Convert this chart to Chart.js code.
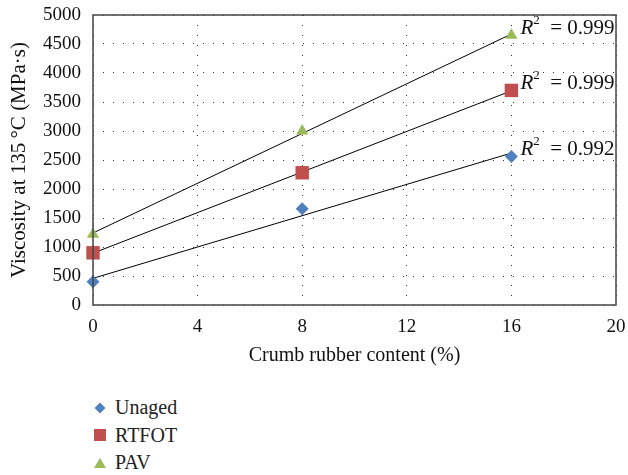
<!DOCTYPE html>
<html><head><meta charset="utf-8">
<script src="https://cdn.jsdelivr.net/npm/chart.js@4/dist/chart.umd.min.js"></script>
<style>
html,body{margin:0;padding:0;background:#fff;width:628px;height:475px;overflow:hidden;}
#wrap{position:absolute;left:0;top:0;width:628px;height:380px;}
#legend{position:absolute;left:93px;top:394px;font-family:"Liberation Serif","DejaVu Serif",serif;font-size:20px;color:#222;}
.item{height:27.5px;display:flex;align-items:center;}
.item svg{width:14px;height:14px;margin-right:8px;}
</style></head>
<body>
<div id="wrap"><canvas id="c" width="628" height="380"></canvas></div>
<div id="legend"></div>
<script>
const seriesNames = ['Unaged', 'RTFOT', 'PAV'];
const rubberContent = [0, 8, 16];
const unaged = [400, 1660, 2560];
const rtfot = [900, 2280, 3700];
const pav = [1220, 3000, 4650];
const r2Values = ['0.992', '0.999', '0.999'];
const xTicks = [0, 4, 8, 12, 16, 20];
const yTicks = [0, 500, 1000, 1500, 2000, 2500, 3000, 3500, 4000, 4500, 5000];

const colors = ['#4F81BD', '#C0504D', '#9BBB59'];
const styles = ['rectRot', 'rect', 'triangle'];
const radii = [6.5, 9.5, 7];
const values = [unaged, rtfot, pav];

function fit(xs, ys) {
  const n = xs.length;
  const mx = xs.reduce((a, b) => a + b, 0) / n;
  const my = ys.reduce((a, b) => a + b, 0) / n;
  let sxy = 0, sxx = 0;
  for (let i = 0; i < n; i++) { sxy += (xs[i] - mx) * (ys[i] - my); sxx += (xs[i] - mx) ** 2; }
  const b = sxy / sxx, a = my - b * mx;
  return x => a + b * x;
}

const datasets = [];
values.forEach((ys, i) => {
  const f = fit(rubberContent, ys);
  const x0 = rubberContent[0], x1 = rubberContent[rubberContent.length - 1];
  datasets.push({
    type: 'line', label: seriesNames[i] + ' trend',
    data: [{x: x0, y: f(x0)}, {x: x1, y: f(x1)}],
    borderColor: '#000', borderWidth: 1, pointRadius: 0, fill: false, order: 2, clip: false
  });
});
values.forEach((ys, i) => {
  datasets.push({
    type: 'scatter', label: seriesNames[i],
    data: rubberContent.map((x, j) => ({x, y: ys[j]})),
    backgroundColor: colors[i], borderColor: colors[i], borderWidth: 0,
    pointStyle: styles[i], pointRadius: radii[i], pointHoverRadius: radii[i], order: 1, clip: false
  });
});

const FONT = '"Liberation Serif","DejaVu Serif",serif';

const r2Plugin = {
  id: 'r2',
  afterDatasetsDraw(chart) {
    const ctx = chart.ctx;
    const xs = chart.scales.x, ys = chart.scales.y;
    ctx.save();
    ctx.fillStyle = '#111';
    ctx.textBaseline = 'middle';
    values.forEach((v, i) => {
      const lastX = rubberContent[rubberContent.length - 1];
      const px = xs.getPixelForValue(lastX) + 9;
      const py = ys.getPixelForValue(v[v.length - 1]) - 7;
      ctx.font = 'italic 21px ' + FONT;
      ctx.fillText('R', px, py);
      let w = ctx.measureText('R').width;
      ctx.font = '13px ' + FONT;
      ctx.fillText('2', px + w, py - 8);
      w += ctx.measureText('2').width;
      ctx.font = '21px ' + FONT;
      ctx.fillText('\u2002= ' + r2Values[i], px + w, py);
    });
    ctx.restore();
  }
};
const framePlugin = {
  id: 'frame',
  afterDraw(chart) {
    const {left, top, right, bottom} = chart.chartArea;
    const ctx = chart.ctx;
    ctx.save();
    ctx.strokeStyle = '#444';
    ctx.lineWidth = 1.5;
    ctx.strokeRect(left, top, right - left, bottom - top);
    ctx.restore();
  }
};

new Chart(document.getElementById('c'), {
  data: {datasets},
  options: {
    responsive: false, animation: false,
    layout: {padding: {left: 0, right: 12, top: 15, bottom: 0}},
    plugins: {legend: {display: false}, tooltip: {enabled: false}},
    scales: {
      x: {
        type: 'linear', min: 0, max: 20,
        afterBuildTicks(s) { s.ticks = xTicks.map(v => ({value: v})); },
        afterFit(s) { s.height = 75; s.paddingLeft = 0; s.paddingRight = 0; },
        grid: {color: '#333', drawTicks: false, lineWidth: 1},
        border: {display: false, dash: [1, 9]},
        ticks: {padding: 11, color: '#111', font: {family: FONT, size: 19}, callback: v => String(v)},
        title: {display: true, text: 'Crumb rubber content (%)', color: '#111',
                font: {family: FONT, size: 20}, padding: {top: 0, bottom: 12}}
      },
      y: {
        type: 'linear', min: 0, max: 5000,
        afterBuildTicks(s) { s.ticks = yTicks.map(v => ({value: v})); },
        afterFit(s) { s.width = 93; s.paddingTop = 0; s.paddingBottom = 0; },
        grid: {color: '#333', drawTicks: false, lineWidth: 1},
        border: {display: false, dash: [1, 9]},
        ticks: {padding: 12, color: '#111', font: {family: FONT, size: 19}, callback: v => String(v)},
        title: {display: true, text: 'Viscosity at 135\u2009°C (MPa·s)', color: '#111',
                font: {family: FONT, size: 21}, padding: {top: 7, bottom: 0}}
      }
    }
  },
  plugins: [r2Plugin, framePlugin]
});

const shapes = [
  c => `<polygon points="7,1.5 12.5,7 7,12.5 1.5,7" fill="${c}"/>`,
  c => `<rect x="1" y="1" width="12" height="12" fill="${c}"/>`,
  c => `<polygon points="7,2 13,12 1,12" fill="${c}"/>`
];
document.getElementById('legend').innerHTML = seriesNames.map((n, i) =>
  `<div class="item"><svg viewBox="0 0 14 14">${shapes[i](colors[i])}</svg><span>${n}</span></div>`).join('');
</script>
</body></html>
